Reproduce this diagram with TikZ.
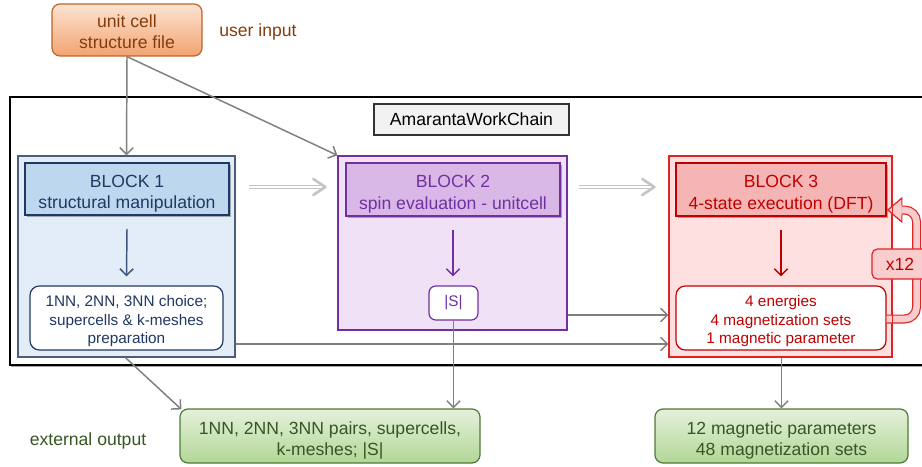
\documentclass[tikz,border=0pt]{standalone}
\usepackage{fontspec}
\setmainfont{Liberation Sans}
\usetikzlibrary{arrows.meta,shadows,calc}
\definecolor{ucTop}{HTML}{FCE3D1}
\definecolor{ucBot}{HTML}{F2A470}
\definecolor{ucLine}{HTML}{C0622A}
\definecolor{ucText}{HTML}{843C0C}
\definecolor{bOneFill}{HTML}{E2EDF8}
\definecolor{bOneLine}{HTML}{4A5E7A}
\definecolor{bOneHead}{HTML}{BDD7EE}
\definecolor{bOneDark}{HTML}{203864}
\definecolor{bTwoFill}{HTML}{F0E1F7}
\definecolor{bTwoLine}{HTML}{7030A0}
\definecolor{bTwoHead}{HTML}{D9B8E8}
\definecolor{bThrFill}{HTML}{FFE0E0}
\definecolor{bThrLine}{HTML}{E02424}
\definecolor{bThrHead}{HTML}{F5B5B5}
\definecolor{bThrDark}{HTML}{C00000}
\definecolor{loopFill}{HTML}{F9CDCD}
\definecolor{grTop}{HTML}{E5F1DB}
\definecolor{grBot}{HTML}{B2D697}
\definecolor{grLine}{HTML}{4F7A35}
\definecolor{grText}{HTML}{375623}
\definecolor{arGrey}{HTML}{7F7F7F}
\definecolor{dbGrey}{HTML}{C4C4C4}
\newcommand\strutHead{\rule{0pt}{16.2pt}}
\newcommand\strutRes{\rule{0pt}{12.9pt}}
\newcommand\strutUc{\rule{0pt}{12.6pt}}
\begin{document}
\begin{tikzpicture}[x=0.75pt,y=-0.75pt,
  big/.style={font=\fontsize{13.2}{15.8}\selectfont},
  small/.style={font=\fontsize{11.5}{13.9}\selectfont},
  plain/.style={inner sep=0pt,align=center},
  container/.style={plain,draw,line width=1pt},
  header/.style={plain,big,draw,line width=1.3pt,
    drop shadow={shadow xshift=1.5pt,shadow yshift=-1.5pt,opacity=0.3,fill=black}},
  result/.style={plain,small,draw,fill=white,line width=0.9pt,rounded corners=7pt},
  garrow/.style={draw=arGrey,line width=1.1pt,-{Straight Barb[length=5pt,width=10pt,line width=1.1pt]}},
  carrow/.style={line width=1.1pt,-{Straight Barb[length=5pt,width=10pt,line width=1.1pt]}},
  dblshaft/.style={draw=dbGrey,line width=0.9pt,double=white,double distance=1.4pt},
  dblhead/.style={draw=dbGrey,line width=2pt,line cap=round,line join=round},
  greenbox/.style={plain,big,draw=grLine,line width=0.9pt,rounded corners=6pt,
    top color=grTop,bottom color=grBot,text=grText}
]
\useasboundingbox (0,0) rectangle (922,467);

% outer work chain frame (right edge lies beyond the picture)
\node[plain,draw=black,line width=1.5pt,fill=white,minimum width=690pt,minimum height=201pt,
  drop shadow={shadow xshift=1pt,shadow yshift=-1.5pt,opacity=0.35,fill=black}] (chain) at (470,231) {};
\node[plain,big,draw=black!80,line width=0.8pt,fill=black!5,minimum width=146.25pt,minimum height=23.25pt,
  drop shadow={shadow xshift=1pt,shadow yshift=-1pt,opacity=0.25,fill=black}] (amar) at (471.5,119.5) {AmarantaWorkChain};

% user input
\node[plain,big,draw=ucLine,line width=0.9pt,rounded corners=6pt,top color=ucTop,bottom color=ucBot,
  text=ucText,minimum width=112.5pt,minimum height=39pt] (uc) at (127,30) {\strutUc unit cell\\structure file};
\node[plain,big,text=ucText] (uin) at (258,32) {user input};

% block 1
\node[container,draw=bOneLine,fill=bOneFill,minimum width=162.75pt,minimum height=150.75pt] (b1c) at (126.5,256.5) {};
\node[header,draw=bOneDark,fill=bOneHead,text=bOneDark,minimum width=153pt,minimum height=39pt] (b1h) at (127,189) {\strutHead BLOCK 1\\structural manipulation};
\node[result,draw=bOneDark,text=bOneDark,minimum width=144.75pt,minimum height=48pt] (b1r) at (126.5,318) {\strutRes 1NN, 2NN, 3NN choice;\\supercells \& k-meshes\\preparation};

% block 2
\node[container,draw=bTwoLine,fill=bTwoFill,minimum width=171.75pt,minimum height=130.5pt] (b2c) at (452.5,243) {};
\node[header,draw=bTwoLine,fill=bTwoHead,text=bTwoLine,minimum width=160.5pt,minimum height=39.75pt] (b2h) at (453,189.5) {\strutHead BLOCK 2\\spin evaluation - unitcell};
\node[result,draw=bTwoLine,text=bTwoLine,minimum width=36.75pt,minimum height=25.5pt,rounded corners=5pt] (S) at (453.5,303) {|S|};

% block 3
\node[container,draw=bThrLine,fill=bThrFill,minimum width=167.25pt,minimum height=150.75pt] (b3c) at (780.5,256.5) {};
\node[header,draw=bThrDark,fill=bThrHead,text=bThrDark,minimum width=157.5pt,minimum height=39.75pt] (b3h) at (781,189.5) {\strutHead BLOCK 3\\4-state execution (DFT)};
\node[result,draw=bThrDark,text=bThrDark,minimum width=157.5pt,minimum height=48pt] (b3r) at (781,318) {\strutRes 4 energies\\4 magnetization sets\\1 magnetic parameter};

% loop arrow (hollow, thick)
\coordinate (lt) at ($(b3h.east)+(1,20.5)$);
\fill[loopFill] ($(lt)+(14,-4.5)$) -- ($(lt)+(14,-12)$) -- (lt) -- ($(lt)+(14,12)$) -- ($(lt)+(14,4.5)$) -- cycle;
\draw[bThrLine,line width=0.9pt,line join=miter] ($(lt)+(14,-4.5)$) -- ($(lt)+(14,-12)$) -- (lt) -- ($(lt)+(14,12)$) -- ($(lt)+(14,4.5)$);
\draw[draw=bThrLine,line width=0.9pt,double=loopFill,double distance=4.95pt,rounded corners=9pt]
  ($(b3r.east)+(0,1)$) -- ++(30,0) |- ($(lt)+(14,0)$);
\draw[bThrLine,line width=1pt] (b3c.north east) -- (b3c.south east);
\node[plain,big,draw=bThrLine,line width=0.9pt,fill=loopFill,text=bThrDark,rounded corners=4pt,
  minimum width=42pt,minimum height=22.5pt] (x12) at (900,264) {x12};

% outputs
\node[greenbox,minimum width=225pt,minimum height=40.5pt] (g1) at (330,436) {\strutHead 1NN, 2NN, 3NN pairs, supercells,\\k-meshes; |S|};
\node[greenbox,minimum width=189.75pt,minimum height=40.5pt] (g2) at (781.5,436) {\strutHead 12 magnetic parameters\\48 magnetization sets};
\node[plain,big,text=grText] (ext) at (88,441) {external output};

% helper coordinates
\coordinate (yA) at (0,344);
\coordinate (yB) at (0,315);
\coordinate (yD) at (0,187);

% arrows
\draw[garrow] (uc.south) -- (b1c.north);
\draw[garrow] (uc.south) -- (b2c.north west);
\draw[garrow] (b1c.east |- yA) -- (b3c.west |- yA);
\draw[garrow] (b2c.east |- yB) -- (b3c.west |- yB);
\draw[garrow] ($(b1c.south)+(-1,0)$) -- ($(g1.north west)+(2,1)$);
\draw[garrow] (S.south) -- (S.south |- g1.north);
\draw[garrow] ($(b3c.south)+(1,0)$) -- ($(g2.north)$);

\draw[carrow,draw=bOneDark!85] ($(b1h.south)+(0,13)$) -- ($(b1r.north)+(0,-9)$);
\draw[carrow,draw=bTwoLine] ($(b2h.south)+(0,13)$) -- ($(S.north)+(-0.5,-9)$);
\draw[carrow,draw=bThrDark] ($(b3h.south)+(0,13)$) -- ($(b3r.north)+(0,-9)$);

% hollow grey arrows between blocks
\coordinate (d1s) at ($(b1c.east |- yD)+(13,0)$);
\coordinate (d1e) at ($(b2c.west |- yD)+(-12,0)$);
\coordinate (d2s) at ($(b2c.east |- yD)+(11,0)$);
\coordinate (d2e) at ($(b3c.west |- yD)+(-14,0)$);
\draw[dblshaft] (d1s) -- ($(d1e)+(-4,0)$);
\draw[dblhead] ($(d1e)+(-12,-8)$) -- (d1e) -- ($(d1e)+(-12,8)$);
\draw[dblshaft] (d2s) -- ($(d2e)+(-4,0)$);
\draw[dblhead] ($(d2e)+(-12,-8)$) -- (d2e) -- ($(d2e)+(-12,8)$);
\end{tikzpicture}
\end{document}
